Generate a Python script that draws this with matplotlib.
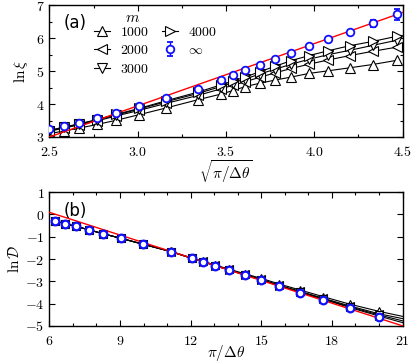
import matplotlib
matplotlib.use('Agg')
import matplotlib.pyplot as plt
import numpy as np
from matplotlib.ticker import MultipleLocator, FuncFormatter

plt.rcParams['mathtext.fontset'] = 'cm'
plt.rcParams['font.family'] = 'DejaVu Sans'

# ---------------- data, panel (a) ----------------
x_a = [2.50, 2.58, 2.67, 2.77, 2.88, 3.01, 3.16, 3.34, 3.47, 3.54,
       3.61, 3.69, 3.78, 3.87, 3.97, 4.08, 4.20, 4.33, 4.47]
xi_1000 = [3.10, 3.18, 3.27, 3.38, 3.51, 3.68, 3.88, 4.13, 4.30, 4.41,
           4.53, 4.63, 4.73, 4.82, 4.93, 5.01, 5.10, 5.20, 5.33]
xi_2000 = [3.17, 3.27, 3.37, 3.49, 3.64, 3.81, 4.02, 4.26, 4.46, 4.57,
           4.68, 4.81, 4.95, 5.08, 5.21, 5.34, 5.47, 5.60, 5.73]
xi_3000 = [3.19, 3.29, 3.39, 3.52, 3.67, 3.85, 4.07, 4.32, 4.53, 4.65,
           4.76, 4.91, 5.06, 5.21, 5.36, 5.50, 5.63, 5.78, 5.94]
xi_4000 = [3.20, 3.30, 3.40, 3.53, 3.69, 3.87, 4.10, 4.36, 4.58, 4.70,
           4.82, 4.98, 5.15, 5.32, 5.47, 5.62, 5.77, 5.90, 6.06]
xi_inf = [3.23, 3.33, 3.43, 3.57, 3.74, 3.93, 4.17, 4.46, 4.74, 4.89,
          5.04, 5.20, 5.37, 5.55, 5.76, 5.97, 6.19, 6.45, 6.72]
xi_inf_err = [0, 0, 0, 0, 0, 0, 0, 0, 0, 0,
              0, 0, 0, 0, 0.02, 0.03, 0.06, 0.10, 0.16]
fit_a = [1.89, -1.725]          # slope, intercept of red line

# ---------------- data, panel (b) ----------------
x_b = [6.25, 6.66, 7.13, 7.67, 8.29, 9.06, 9.99, 11.16, 12.04, 12.53,
       13.03, 13.62, 14.29, 14.98, 15.76, 16.65, 17.64, 18.75, 19.98]
D_1000 = [-0.30, -0.42, -0.54, -0.69, -0.87, -1.08, -1.34, -1.66, -1.95, -2.10,
          -2.27, -2.45, -2.66, -2.86, -3.12, -3.39, -3.69, -4.02, -4.34]
D_2000 = [-0.30, -0.42, -0.54, -0.69, -0.87, -1.08, -1.34, -1.67, -1.96, -2.11,
          -2.29, -2.47, -2.69, -2.91, -3.17, -3.45, -3.76, -4.10, -4.45]
D_3000 = [-0.30, -0.42, -0.54, -0.69, -0.87, -1.08, -1.34, -1.67, -1.97, -2.12,
          -2.30, -2.48, -2.71, -2.92, -3.19, -3.48, -3.79, -4.14, -4.50]
D_4000 = [-0.30, -0.42, -0.54, -0.69, -0.87, -1.08, -1.34, -1.67, -1.97, -2.12,
          -2.30, -2.49, -2.72, -2.93, -3.20, -3.50, -3.81, -4.17, -4.55]
D_end = [-4.57, -4.67, -4.77, -4.85]   # black curves at pi/dtheta = 21
D_inf = [-0.30, -0.42, -0.54, -0.69, -0.87, -1.08, -1.34, -1.67, -1.97, -2.12,
         -2.30, -2.49, -2.72, -2.93, -3.21, -3.51, -3.84, -4.21, -4.62]
fit_b = [-0.339, 2.124]         # slope, intercept of red line

m_labels = ['$1000$', '$2000$', '$3000$', '$4000$']
m_markers = ['^', '<', 'v', '>']

fig = plt.figure(figsize=(4.15, 3.63), dpi=100)
ax1 = fig.add_axes([0.119, 0.6226, 0.851, 0.363])
ax2 = fig.add_axes([0.119, 0.102, 0.851, 0.369])

def style_axis(ax):
    ax.tick_params(which='both', direction='in', top=True, right=True, labelsize=10)
    ax.tick_params(which='major', length=4, width=0.8)
    ax.tick_params(which='minor', length=2, width=0.8)
    ax.tick_params(axis='x', pad=6)
    for sp in ax.spines.values():
        sp.set_linewidth(1.0)

fmt1 = FuncFormatter(lambda v, p: r'$%.1f$' % v)
fmtg = FuncFormatter(lambda v, p: r'$%g$' % v)

# Panel (a)
handles = []
for ys, mk, lab in zip([xi_1000, xi_2000, xi_3000, xi_4000], m_markers, m_labels):
    h, = ax1.plot(x_a, ys, color='black', lw=0.8, marker=mk, ms=6.5,
                  mfc='white', mec='black', mew=0.8, label=lab)
    handles.append(h)
xr = np.array([2.5, 4.5])
ax1.plot(xr, np.polyval(fit_a, xr), color='red', lw=1.0, zorder=3)
he = ax1.errorbar(x_a, xi_inf, yerr=xi_inf_err, fmt='o', ms=5.5, mfc='white',
                  mec='#1010ff', mew=1.3, ecolor='#1010ff', elinewidth=1.0,
                  capsize=2.5, capthick=1.0, zorder=4, label=r'$\infty$')
handles.append(he)

ax1.set_xlim(2.5, 4.5)
ax1.set_ylim(3, 7)
ax1.xaxis.set_major_locator(MultipleLocator(0.5))
ax1.xaxis.set_minor_locator(MultipleLocator(0.25))
ax1.yaxis.set_major_locator(MultipleLocator(1))
ax1.yaxis.set_minor_locator(MultipleLocator(0.5))
ax1.xaxis.set_major_formatter(fmt1)
ax1.yaxis.set_major_formatter(fmtg)
style_axis(ax1)
ax1.set_xlabel(r'$\sqrt{\pi/\Delta\theta}$', fontsize=11)
ax1.xaxis.set_label_coords(0.5, -0.16)
ax1.set_ylabel(r'$\ln\xi$', fontsize=11, labelpad=4)
ax1.text(0.04, 0.83, '(a)', transform=ax1.transAxes, fontsize=12)
ax1.text(0.235, 0.87, r'$m$', transform=ax1.transAxes, fontsize=11, ha='center')
leg = ax1.legend(handles=handles, ncol=2, loc='upper left', bbox_to_anchor=(0.098, 0.925),
                 frameon=False, fontsize=10,
                 handlelength=1.2, handletextpad=0.7, columnspacing=0.9,
                 labelspacing=0.32, borderpad=0.2)

# Panel (b)
for ys, ye, mk in zip([D_1000, D_2000, D_3000, D_4000], D_end, m_markers):
    ax2.plot(x_b + [21], ys + [ye], color='black', lw=0.8)
    ax2.plot(x_b, ys, ls='none', marker=mk, ms=6, mfc='white', mec='black', mew=0.8)
xr = np.array([6, 21])
ax2.plot(xr, np.polyval(fit_b, xr), color='red', lw=1.0, zorder=3)
ax2.plot(x_b, D_inf, ls='none', marker='o', ms=5.5, mfc='white', mec='#1010ff',
         mew=1.6, zorder=4)

ax2.set_xlim(6, 21)
ax2.set_ylim(-5, 1)
ax2.xaxis.set_major_locator(MultipleLocator(3))
ax2.xaxis.set_minor_locator(MultipleLocator(1))
ax2.yaxis.set_major_locator(MultipleLocator(1))
ax2.xaxis.set_major_formatter(fmtg)
ax2.yaxis.set_major_formatter(fmtg)
style_axis(ax2)
ax2.set_xlabel(r'$\pi/\Delta\theta$', fontsize=11)
ax2.xaxis.set_label_coords(0.5, -0.125)
ax2.set_ylabel(r'$\ln\mathcal{D}$', fontsize=11, labelpad=2)
ax2.text(0.04, 0.82, '(b)', transform=ax2.transAxes, fontsize=12)

fig.savefig('out.png', dpi=100)
